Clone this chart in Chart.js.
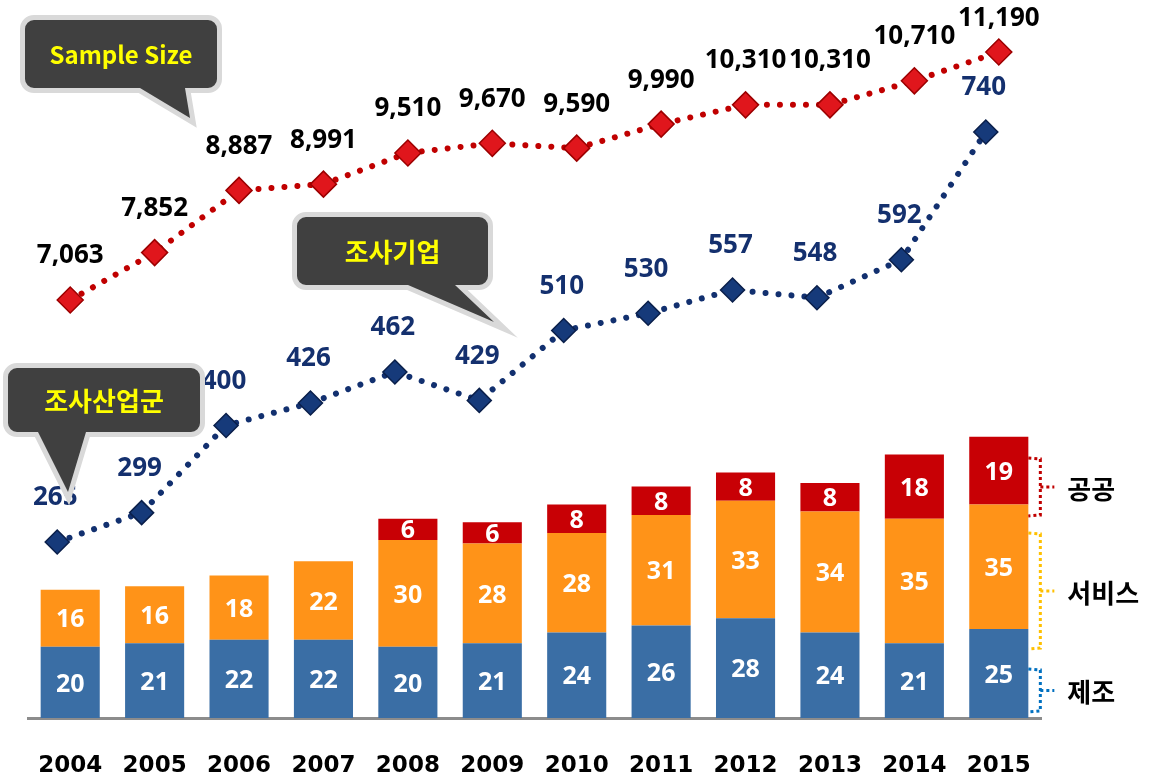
<!DOCTYPE html>
<html><head><meta charset="utf-8">
<script src="https://cdn.jsdelivr.net/npm/chart.js@4.4.1/dist/chart.umd.min.js"></script>
<style>html,body{margin:0;padding:0;background:#fff;}#wrap{width:1161px;height:777px;position:relative;}</style>
</head><body><div id="wrap"><canvas id="c" width="1161" height="777"></canvas></div>
<script>
// ---- data ----
const years = ['2004','2005','2006','2007','2008','2009','2010','2011','2012','2013','2014','2015'];
const manufacturing = [20,21,22,22,20,21,24,26,28,24,21,25];
const services = [16,16,18,22,30,28,28,31,33,34,35,35];
const publicSector = [null,null,null,null,6,6,8,8,8,8,18,19];
const sampleSize = [7063,7852,8887,8991,9510,9670,9590,9990,10310,10310,10710,11190];
const surveyedFirms = [265,299,400,426,462,429,510,530,557,548,592,740];
const segmentNames = ['제조','서비스','공공'];
const calloutTexts = ['Sample Size','조사기업','조사산업군'];

const NUMF = '"Noto Sans", "Noto Sans CJK KR", sans-serif';
const KRF = '"Noto Sans CJK KR", "Noto Sans", sans-serif';
const fmt = v => v.toLocaleString('en-US');

const labelPlugin = {
  id: 'labels',
  afterDatasetsDraw(chart) {
    const ctx = chart.ctx;
    ctx.save();
    ctx.textAlign = 'center';
    ctx.textBaseline = 'middle';
    [0,1,2].forEach(di => {
      const meta = chart.getDatasetMeta(di);
      const data = chart.data.datasets[di].data;
      meta.data.forEach((el, i) => {
        if (data[i] == null) return;
        ctx.font = 'bold 25px ' + NUMF;
        ctx.fillStyle = '#ffffff';
        ctx.fillText(String(data[i]), el.x, (el.y + el.base) / 2 + 2);
      });
    });
    let meta = chart.getDatasetMeta(3);
    meta.data.forEach((el, i) => {
      ctx.font = 'bold 26px ' + NUMF;
      ctx.fillStyle = '#000000';
      ctx.fillText(fmt(sampleSize[i]), el.x, Math.max(19, el.y - 44));
    });
    meta = chart.getDatasetMeta(4);
    meta.data.forEach((el, i) => {
      ctx.font = 'bold 26px ' + NUMF;
      ctx.fillStyle = '#14306e';
      ctx.fillText(fmt(surveyedFirms[i]), el.x - 2, el.y - 44);
    });
    ctx.restore();
  },
  afterDraw(chart) {
    const ctx = chart.ctx;
    function callout(x1, y1, x2, y2, b1, b2, tx, ty, text, size) {
      const r = 9;
      ctx.save();
      ctx.beginPath();
      ctx.moveTo(x1 + r, y1);
      ctx.lineTo(x2 - r, y1);
      ctx.arcTo(x2, y1, x2, y1 + r, r);
      ctx.lineTo(x2, y2 - r);
      ctx.arcTo(x2, y2, x2 - r, y2, r);
      ctx.lineTo(b2, y2);
      ctx.lineTo(tx, ty);
      ctx.lineTo(b1, y2);
      ctx.lineTo(x1 + r, y2);
      ctx.arcTo(x1, y2, x1, y2 - r, r);
      ctx.lineTo(x1, y1 + r);
      ctx.arcTo(x1, y1, x1 + r, y1, r);
      ctx.closePath();
      ctx.lineJoin = 'miter';
      ctx.lineWidth = 10;
      ctx.strokeStyle = '#d9d9d9';
      ctx.stroke();
      ctx.fillStyle = '#404040';
      ctx.fill();
      ctx.fillStyle = '#ffff00';
      ctx.font = 'bold ' + size + 'px ' + KRF;
      ctx.textAlign = 'center';
      ctx.textBaseline = 'middle';
      ctx.fillText(text, (x1 + x2) / 2, (y1 + y2) / 2 + 1);
      ctx.restore();
    }
    callout(25, 20, 217, 88, 140, 185, 190, 118, calloutTexts[0], 24);
    callout(297, 217, 488, 285, 408, 455, 494, 322, calloutTexts[1], 26);
    callout(8, 368, 200, 432, 38, 86, 68, 492, calloutTexts[2], 26);

    const last = years.length - 1;
    const barEl = chart.getDatasetMeta(0).data[last];
    const xb = barEl.x + barEl.width / 2;
    const brackets = [
      {ds: 2, color: '#c00000', top: 458, bot: 516},
      {ds: 1, color: '#ffc000', top: 533, bot: 649},
      {ds: 0, color: '#0070c0', top: 669, bot: 712}
    ];
    brackets.forEach(b => {
      const mid = (b.top + b.bot) / 2;
      ctx.save();
      ctx.strokeStyle = b.color;
      ctx.lineWidth = 3;
      ctx.setLineDash([3, 3]);
      ctx.beginPath();
      ctx.moveTo(xb, b.top);
      ctx.lineTo(xb + 12, b.top + 1);
      ctx.lineTo(xb + 12, b.bot - 1);
      ctx.lineTo(xb, b.bot);
      ctx.moveTo(xb + 12, mid);
      ctx.lineTo(xb + 26, mid);
      ctx.stroke();
      ctx.restore();
      ctx.save();
      ctx.fillStyle = '#000';
      ctx.font = 'bold 26px ' + KRF;
      ctx.textAlign = 'left';
      ctx.textBaseline = 'middle';
      ctx.fillText(segmentNames[b.ds], xb + 39, mid + 2);
      ctx.restore();
    });
  }
};

const barCommon = {type: 'bar', stack: 's', yAxisID: 'y', order: 3, grouped: false, categoryPercentage: 1, barPercentage: 0.7};

new Chart(document.getElementById('c'), {
  data: {
    labels: years,
    datasets: [
      Object.assign({label: segmentNames[0], data: manufacturing, backgroundColor: '#3a6ea5'}, barCommon),
      Object.assign({label: segmentNames[1], data: services, backgroundColor: '#ff9318'}, barCommon),
      Object.assign({label: segmentNames[2], data: publicSector, backgroundColor: '#c80005'}, barCommon),
      {type: 'line', label: calloutTexts[0], data: sampleSize, xAxisID: 'xSample', yAxisID: 'ySample', order: 1,
        borderColor: '#c00000', borderWidth: 6, borderDash: [0.01, 13], borderCapStyle: 'round', tension: 0,
        pointStyle: 'rectRot', pointRadius: 13, pointBackgroundColor: '#e0161c', pointBorderColor: '#9c0000', pointBorderWidth: 1.5},
      {type: 'line', label: calloutTexts[1], data: surveyedFirms.map((v, i) => ({x: i, y: v})), xAxisID: 'xFirm', yAxisID: 'yFirm', order: 1,
        borderColor: '#12306f', borderWidth: 6, borderDash: [0.01, 13], borderCapStyle: 'round', tension: 0,
        pointStyle: 'rectRot', pointRadius: 12, pointBackgroundColor: '#163a7a', pointBorderColor: '#0a1f4a', pointBorderWidth: 1.5}
    ]
  },
  options: {
    responsive: false,
    devicePixelRatio: 1,
    animation: false,
    layout: {autoPadding: false, padding: {left: 28, right: 120, top: 0, bottom: 0}},
    plugins: {legend: {display: false}, tooltip: {enabled: false}, title: {display: false}},
    scales: {
      x: {
        type: 'category', offset: true, stacked: true,
        grid: {display: false, drawTicks: false},
        border: {display: true, color: '#8c8c8c', width: 3},
        ticks: {color: '#000', font: {family: '"DejaVu Sans", sans-serif', weight: 'bold', size: 23}, padding: 34, maxRotation: 0, autoSkip: false},
        afterFit: a => { a.height = 59; }
      },
      xSample: {type: 'category', display: false, offset: true},
      xFirm: {type: 'linear', display: false, min: -0.346, max: 11.654},
      y: {display: false, stacked: true, min: 0, max: 201.7},
      ySample: {display: false, min: 108, max: 12055},
      yFirm: {display: false, min: 61.1, max: 892.9}
    }
  },
  plugins: [labelPlugin]
});
</script></body></html>
